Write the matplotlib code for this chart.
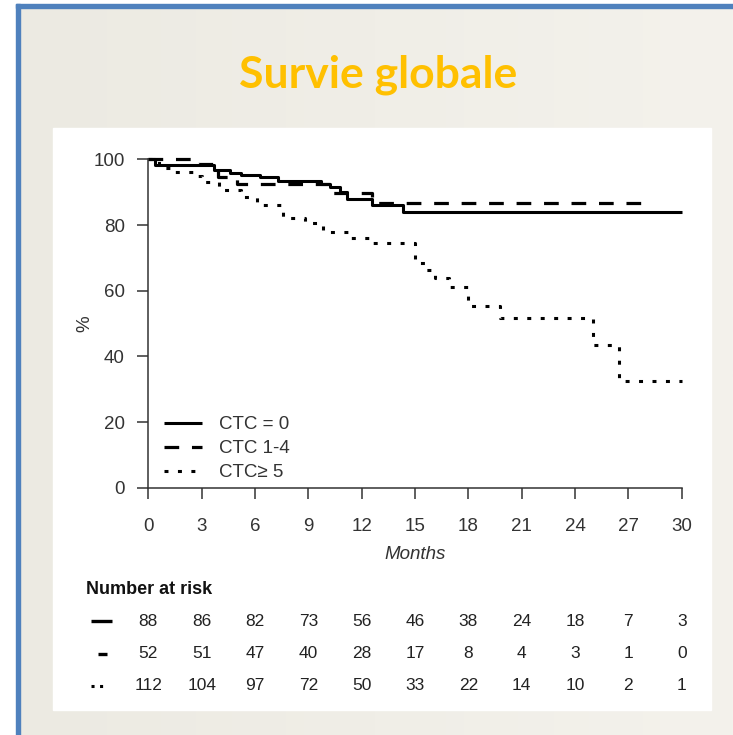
import numpy as np
import matplotlib.pyplot as plt
from matplotlib.patches import Rectangle
from matplotlib.lines import Line2D

# Kaplan-Meier steps (months, % alive)
t_ctc0 = [0, 0.4, 3.7, 4.6, 5.2, 6.3, 7.3, 9.7, 10.2, 10.8, 11.2, 12.6, 14.3, 30]
s_ctc0 = [100, 98.3, 96.8, 95.9, 95.3, 94.6, 93.4, 92.6, 91.5, 90.0, 87.9, 86.1, 84.0, 84.0]

t_ctc14 = [0, 2.8, 3.9, 5.0, 10.2, 12.6, 28.4]
s_ctc14 = [100, 98.5, 94.6, 92.5, 89.8, 86.7, 86.7]

t_ctc5 = [0, 0.6, 1.4, 2.6, 3.0, 4.0, 5.2, 6.1, 7.6, 8.8, 9.8, 11.4, 12.4, 15.0,
          15.6, 16.1, 16.9, 18.0, 19.8, 25.0, 26.5, 30]
s_ctc5 = [100, 97.5, 96.1, 95.0, 93.1, 90.7, 88.5, 86.1, 82.1, 80.6, 77.9, 76.1, 74.5, 68.4,
          66.3, 63.8, 61.1, 55.3, 51.7, 43.5, 32.5, 32.5]

labels = ['CTC = 0', 'CTC 1-4', 'CTC\u2265 5']
risk_times = [0, 3, 6, 9, 12, 15, 18, 21, 24, 27, 30]
risk_ctc0 = [88, 86, 82, 73, 56, 46, 38, 24, 18, 7, 3]
risk_ctc14 = [52, 51, 47, 40, 28, 17, 8, 4, 3, 1, 0]
risk_ctc5 = [112, 104, 97, 72, 50, 33, 22, 14, 10, 2, 1]

W, H = 733, 735
fig = plt.figure(figsize=(W / 100, H / 100), dpi=100)
fig.patch.set_facecolor('white')

# slide background: beige gradient, blue frame, white panel
bg = fig.add_axes([0, 0, 1, 1])
bg.set_xlim(0, W)
bg.set_ylim(H, 0)
bg.axis('off')
grad = np.linspace(0, 1, 256)[None, :]
c0 = np.array([236, 234, 226]) / 255
c1 = np.array([244, 242, 236]) / 255
img = c0[None, None, :] + (c1 - c0)[None, None, :] * grad[:, :, None]
bg.imshow(img, extent=(17, W, H, 5), aspect='auto', zorder=0)
bg.add_patch(Rectangle((16, 4), W - 16, 4, color='#4F81BD', zorder=1))
bg.add_patch(Rectangle((16, 4), 4, H - 4, color='#4F81BD', zorder=1))
bg.add_patch(Rectangle((53, 128), 658, 582, color='white', zorder=2))
bg.text(378, 75, 'Survie globale', fontsize=32, fontweight='bold', family='Lato',
        color='#FFC000', ha='center', va='center', zorder=3)

# survival plot
axc = '#333333'
ax = fig.add_axes([148.3 / W, 1 - 487.8 / H, 533.4 / W, 328.5 / H])
ax.patch.set_alpha(0)
ax.step(t_ctc0, s_ctc0, where='post', color='black', lw=2.2, solid_capstyle='butt',
        clip_on=False, label=labels[0])
ax.step(t_ctc14, s_ctc14, where='post', color='black', lw=2.3, dashes=(4.6, 4.0),
        dash_capstyle='butt', clip_on=False, label=labels[1])
ax.step(t_ctc5, s_ctc5, where='post', color='black', lw=2.2, dashes=(1.3, 3.1),
        dash_capstyle='butt', clip_on=False, label=labels[2])
ax.set_xlim(0, 30)
ax.set_ylim(0, 100)
for sp in ['top', 'right']:
    ax.spines[sp].set_visible(False)
for sp in ['left', 'bottom']:
    ax.spines[sp].set_color(axc)
    ax.spines[sp].set_linewidth(1.1)
ax.set_xticks(risk_times)
ax.set_yticks([0, 20, 40, 60, 80, 100])
ax.tick_params(axis='both', colors=axc, width=1.1, length=8, labelsize=13.5,
               labelfontfamily='Liberation Sans')
ax.tick_params(axis='x', pad=14)
ax.tick_params(axis='y', pad=9)
ax.set_xlabel('Months', fontsize=13.5, style='italic', family='Liberation Sans',
              color=axc, labelpad=8)
ax.set_ylabel('%', fontsize=13.5, family='Liberation Sans', color=axc, labelpad=0)
leg = ax.legend(loc='lower left', bbox_to_anchor=(0.03, 0.02), frameon=False,
                prop={'family': 'Liberation Sans', 'size': 13.5}, handlelength=2.0,
                handletextpad=0.9, labelspacing=0.37, borderpad=0, borderaxespad=0)
for txt in leg.get_texts():
    txt.set_color(axc)

# number at risk table, aligned on the month axis
axr = fig.add_axes([148.3 / W, 1 - 702 / H, 533.4 / W, 129 / H])
axr.set_xlim(0, 30)
axr.set_ylim(3.5, -0.5)
axr.axis('off')
axr.text(-3.53, 0, 'Number at risk', fontsize=13, fontweight='bold',
         family='Liberation Sans', color='#111111', va='center', ha='left', clip_on=False)
for row, counts in enumerate([risk_ctc0, risk_ctc14, risk_ctc5], start=1):
    for t, n in zip(risk_times, counts):
        axr.text(t, row, str(n), fontsize=12.5, family='Liberation Sans', color='#222222',
                 ha='center', va='center', clip_on=False)
axr.add_line(Line2D([-3.2, -2.05], [1, 1], color='black', lw=2.4, clip_on=False,
                    solid_capstyle='butt'))
axr.add_line(Line2D([-2.85, -2.3], [2, 2], color='black', lw=2.4, clip_on=False,
                    solid_capstyle='butt'))
axr.add_line(Line2D([-3.2, -2.45], [3, 3], color='black', lw=2.2, dashes=(1.0, 1.8),
                    clip_on=False, dash_capstyle='butt'))

fig.savefig('out.png', dpi=100)
